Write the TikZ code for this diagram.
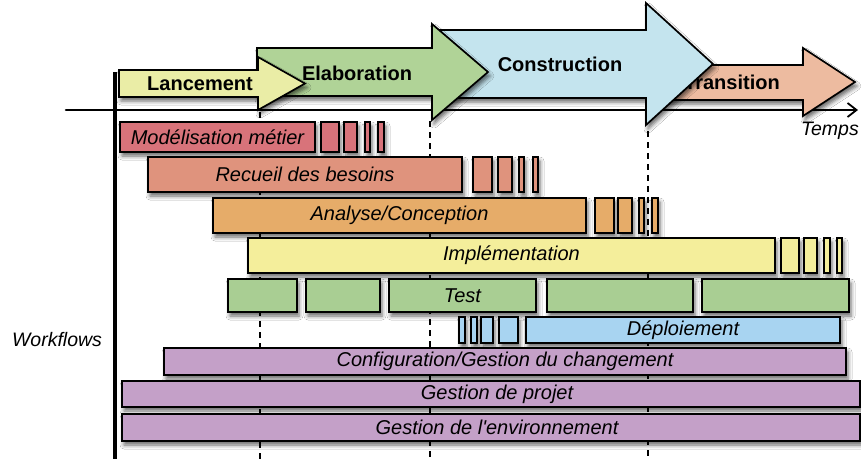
\documentclass[tikz,border=0pt]{standalone}
\usepackage{fontspec}
\setmainfont{Liberation Sans}
\usetikzlibrary{arrows.meta,shadows.blur}
\definecolor{clanc}{HTML}{EAEDA6}
\definecolor{celab}{HTML}{B0D397}
\definecolor{ccons}{HTML}{C4E4EE}
\definecolor{ctrans}{HTML}{EDBBA0}
\definecolor{cmodel}{HTML}{D8737A}
\definecolor{crec}{HTML}{DF937D}
\definecolor{cana}{HTML}{E6AC69}
\definecolor{cimpl}{HTML}{F4EE9B}
\definecolor{ctest}{HTML}{A9CE93}
\definecolor{cdep}{HTML}{A8D4F1}
\definecolor{cpurp}{HTML}{C4A0C8}
\tikzset{
  shad/.style={blur shadow={shadow xshift=2pt,shadow yshift=-4pt,shadow blur radius=4pt,shadow opacity=60}},
  phase/.style={draw=black,line width=1.7pt,line join=miter,shad},
  ptext/.style={font=\fontsize{20}{22}\selectfont\bfseries,inner sep=0pt},
  wbar/.style={draw=black,line width=1.6pt,inner sep=0pt,shad,font=\fontsize{20}{22}\selectfont\itshape},
  dashline/.style={line width=1.3pt,dash pattern=on 6pt off 5pt},
  ltext/.style={font=\fontsize{19.5}{22}\selectfont\itshape,inner sep=0pt},
}
\newcommand\wbox[7]{\node[wbar,fill=#2,minimum width={(#5)-(#3)},minimum height={(#6)-(#4)}] (#1) at ({((#3)+(#5))/2},{((#4)+(#6))/2}) {#7};}
\begin{document}
\begin{tikzpicture}[x=1pt,y=-1pt]
\useasboundingbox[fill=white] (0,0) rectangle (861,459);
% dashed milestone lines
\coordinate (d1t) at (260,112); \coordinate (d1b) at (260,459);
\coordinate (d2t) at (430,121); \coordinate (d2b) at (430,459);
\coordinate (d3t) at (648,131); \coordinate (d3b) at (648,459);
\draw[dashline] (d1t) -- (d1b);
\draw[dashline] (d2t) -- (d2b);
\draw[dashline] (d3t) -- (d3b);
% axes
\coordinate (ax0) at (66,110); \coordinate (ax1) at (858,110);
\draw[line width=2.6pt,line cap=round,-{Straight Barb[length=9pt,width=14pt,line width=1.8pt]}] (ax0) -- (ax1);
\coordinate (vy0) at (115,72); \coordinate (vy1) at (115,459);
\draw[line width=3.2pt] (vy0) -- (vy1);
\node[ltext,anchor=east] (temps) at (859,131) {Temps};
\node[ltext] (wf) at (57,340) {Workflows};
% phase arrows
\draw[phase,fill=ctrans] (660,65) -- (803,65) -- (803,48) -- (855,82) -- (803,116) -- (803,100) -- (660,100) -- cycle;
\node[ptext] (trans) at (732,82) {Transition};
\draw[phase,fill=ccons] (433,30) -- (646,30) -- (646,3) -- (713,64) -- (646,125) -- (646,98) -- (433,98) -- cycle;
\node[ptext] (cons) at (560,64) {Construction};
\draw[phase,fill=celab] (257,48) -- (432,48) -- (432,24) -- (488,72) -- (432,120) -- (432,96) -- (257,96) -- cycle;
\node[ptext] (elab) at (357,73) {Elaboration};
\draw[phase,fill=clanc] (119,70) -- (258,70) -- (258,57) -- (305,83.5) -- (258,110) -- (258,97) -- (119,97) -- cycle;
\node[ptext] (lanc) at (200,84) {Lancement};
% workflows
\wbox{m0}{cmodel}{120}{122}{315}{152}{Modélisation métier}
\wbox{m1}{cmodel}{321}{122}{339}{152}{}
\wbox{m2}{cmodel}{344}{122}{357}{152}{}
\wbox{m3}{cmodel}{365}{122}{370}{152}{}
\wbox{m4}{cmodel}{378}{122}{384}{152}{}
\wbox{r0}{crec}{148}{157}{462}{192}{Recueil des besoins}
\wbox{r1}{crec}{473}{157}{492}{192}{}
\wbox{r2}{crec}{498}{157}{512}{192}{}
\wbox{r3}{crec}{519}{157}{524}{192}{}
\wbox{r4}{crec}{533}{157}{538}{192}{}
\wbox{a0}{cana}{213}{198}{586}{233}{Analyse/Conception}
\wbox{a1}{cana}{595}{198}{614}{233}{}
\wbox{a2}{cana}{618}{198}{632}{233}{}
\wbox{a3}{cana}{639}{198}{644}{233}{}
\wbox{a4}{cana}{652}{198}{658}{233}{}
\wbox{i0}{cimpl}{248}{238}{775}{273}{Implémentation}
\wbox{i1}{cimpl}{781}{238}{799}{273}{}
\wbox{i2}{cimpl}{804}{238}{817}{273}{}
\wbox{i3}{cimpl}{824}{238}{830}{273}{}
\wbox{i4}{cimpl}{837}{238}{842}{273}{}
\wbox{t1}{ctest}{228}{279}{297}{312}{}
\wbox{t2}{ctest}{306}{279}{380}{312}{}
\wbox{t3}{ctest}{389}{279}{536}{312}{Test}
\wbox{t4}{ctest}{547}{279}{693}{312}{}
\wbox{t5}{ctest}{702}{279}{849}{312}{}
\wbox{p1}{cdep}{459}{317}{465}{343}{}
\wbox{p2}{cdep}{471}{317}{477}{343}{}
\wbox{p3}{cdep}{481}{317}{493}{343}{}
\wbox{p4}{cdep}{499}{317}{518}{343}{}
\wbox{p0}{cdep}{526}{317}{840}{343}{Déploiement}
\wbox{c0}{cpurp}{164}{348}{846}{375}{Configuration/Gestion du changement}
\wbox{g0}{cpurp}{122}{381}{860}{407}{\hspace*{12pt}Gestion de projet}
\wbox{e0}{cpurp}{122}{414}{860}{441}{\hspace*{12pt}Gestion de l\textquotesingle environnement}
\end{tikzpicture}
\end{document}
